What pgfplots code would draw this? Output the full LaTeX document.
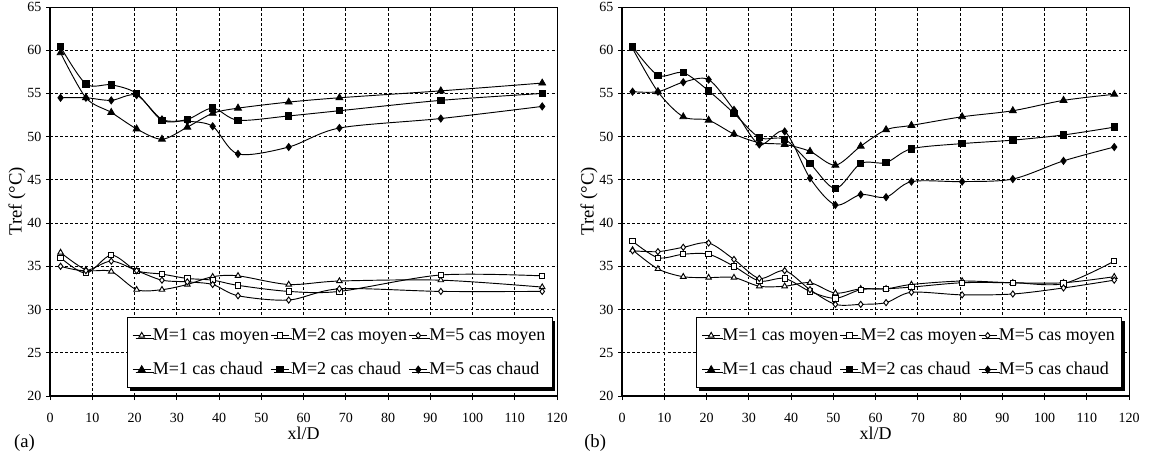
\documentclass[border=0pt]{standalone}
\usepackage{pgfplots}
\pgfplotsset{compat=1.18}
\usepackage{fontspec}
\setmainfont{Liberation Serif}
\usetikzlibrary{shadows}
\pgfplotsset{
  myax/.style={
    scale only axis, width=380.25pt, height=291.75pt, anchor=south west,
    clip mode=individual,
    xmin=0, xmax=120, ymin=20, ymax=65,
    xtick={0,10,...,120}, ytick={20,25,...,65},
    /pgf/number format/assume math mode=true,
    tick label style={font=\fontsize{10.5}{12}\selectfont},
    xticklabel shift=6pt,
    grid=major, major grid style={black, line width=0.6pt, dash pattern=on 2.2pt off 1.6pt},
    axis line style={black, line width=0.6pt},
    tick align=outside, xtick pos=bottom, ytick pos=left,
    major tick length=3pt, tick style={black, line width=0.6pt},
    xlabel={xl/D}, ylabel={Tref (\textdegree C)},
    xlabel style={at={(axis description cs:0.5,-0.095)}, anchor=center, font=\fontsize{13.5}{15}\selectfont},
    ylabel style={at={(axis description cs:-0.065,0.5)}, anchor=center, font=\fontsize{14}{16}\selectfont},
    legend columns=3,
    legend cell align=left,
    legend style={draw=black, line width=0.6pt, fill=white, font=\fontsize{13.5}{15}\selectfont,
      drop shadow={shadow xshift=2.2pt, shadow yshift=-2.2pt, fill=black, opacity=1},
      /tikz/every even column/.append style={column sep=0pt},
      nodes={inner sep=1.2pt}, row sep=12.5pt, inner xsep=4pt, inner ysep=7pt},
    legend image code/.code={\draw[mark repeat=2,mark phase=2,#1] plot coordinates {(0pt,0pt) (6.75pt,0pt) (13.5pt,0pt)};},
    every axis plot/.append style={black, line width=0.7pt, smooth, tension=0.5},
  },
  mo1/.style={mark=triangle*, mark size=2.4pt, mark options={fill=white, solid}},
  mo2/.style={mark=square*, mark size=2pt, mark options={fill=white, solid}},
  mo5/.style={mark=diamond*, mark size=2.3pt, mark options={fill=white, solid}},
  ch1/.style={mark=triangle*, mark size=2.9pt, mark options={fill=black, solid}},
  ch2/.style={mark=square*, mark size=2.4pt, mark options={fill=black, solid}},
  ch5/.style={mark=diamond*, mark size=2.6pt, mark options={fill=black, solid}},
}
\begin{document}
\begin{tikzpicture}
\useasboundingbox (0,0) rectangle (864.75pt,340.5pt);
% ---------- (a) ----------
\begin{axis}[myax, at={(37.5pt,43.5pt)},
  legend style={at={(axis cs:119,20.9)}, anchor=south east}]
\addplot[mo1] coordinates {(2.5,36.6) (8.5,34.6) (14.5,34.4) (20.5,32.3) (26.5,32.3) (32.5,32.9) (38.5,33.8) (44.5,33.9) (56.5,32.9) (68.5,33.3) (92.5,33.4) (116.5,32.6)};
\addplot[mo2] coordinates {(2.5,36.0) (8.5,34.2) (14.5,36.3) (20.5,34.5) (26.5,34.1) (32.5,33.6) (38.5,33.4) (44.5,32.8) (56.5,32.1) (68.5,32.1) (92.5,34.0) (116.5,33.9)};
\addplot[mo5] coordinates {(2.5,35.0) (8.5,34.5) (14.5,35.6) (20.5,34.5) (26.5,33.4) (32.5,33.2) (38.5,32.9) (44.5,31.6) (56.5,31.1) (68.5,32.4) (92.5,32.1) (116.5,32.1)};
\addplot[ch1] coordinates {(2.5,59.7) (8.5,54.5) (14.5,52.8) (20.5,50.9) (26.5,49.7) (32.5,51.1) (38.5,52.7) (44.5,53.3) (56.5,54.0) (68.5,54.5) (92.5,55.3) (116.5,56.2)};
\addplot[ch2] coordinates {(2.5,60.4) (8.5,56.1) (14.5,56.0) (20.5,55.0) (26.5,51.9) (32.5,52.0) (38.5,53.3) (44.5,51.9) (56.5,52.4) (68.5,53.0) (92.5,54.2) (116.5,55.0)};
\addplot[ch5] coordinates {(2.5,54.5) (8.5,54.5) (14.5,54.2) (20.5,54.8) (26.5,52.0) (32.5,51.8) (38.5,51.2) (44.5,48.0) (56.5,48.8) (68.5,51.0) (92.5,52.1) (116.5,53.5)};
\legend{M=1 cas moyen, M=2 cas moyen, M=5 cas moyen, M=1 cas chaud, M=2 cas chaud, M=5 cas chaud}
\draw[black, line width=1.5pt] (rel axis cs:0,1) -- (rel axis cs:0,0) -- (rel axis cs:1,0);
\node[font=\fontsize{14}{16}\selectfont] at (axis description cs:-0.0503,-0.121) {(a)};
\end{axis}
% ---------- (b) ----------
\begin{axis}[myax, at={(466.5pt,43.5pt)},
  legend style={at={(axis cs:118.4,20.9)}, anchor=south east}]
\addplot[mo1] coordinates {(2.5,36.9) (8.5,34.7) (14.5,33.8) (20.5,33.7) (26.5,33.7) (32.5,32.7) (38.5,32.7) (44.5,33.1) (50.5,31.9) (56.5,32.4) (62.5,32.4) (68.5,32.9) (80.5,33.3) (92.5,33.1) (104.5,33.1) (116.5,33.8)};
\addplot[mo2] coordinates {(2.5,37.9) (8.5,36.0) (14.5,36.4) (20.5,36.4) (26.5,35.0) (32.5,33.3) (38.5,33.6) (44.5,32.1) (50.5,31.3) (56.5,32.3) (62.5,32.4) (68.5,32.6) (80.5,33.1) (92.5,33.1) (104.5,33.0) (116.5,35.6)};
\addplot[mo5] coordinates {(2.5,36.8) (8.5,36.7) (14.5,37.2) (20.5,37.7) (26.5,35.8) (32.5,33.6) (38.5,34.5) (44.5,32.3) (50.5,30.6) (56.5,30.6) (62.5,30.8) (68.5,32.0) (80.5,31.7) (92.5,31.8) (104.5,32.5) (116.5,33.4)};
\addplot[ch1] coordinates {(2.5,60.2) (8.5,55.2) (14.5,52.3) (20.5,51.9) (26.5,50.3) (32.5,49.3) (38.5,49.1) (44.5,48.3) (50.5,46.7) (56.5,48.9) (62.5,50.8) (68.5,51.3) (80.5,52.3) (92.5,53.0) (104.5,54.2) (116.5,54.9)};
\addplot[ch2] coordinates {(2.5,60.4) (8.5,57.1) (14.5,57.4) (20.5,55.3) (26.5,52.7) (32.5,49.9) (38.5,49.7) (44.5,46.9) (50.5,44.0) (56.5,46.9) (62.5,47.0) (68.5,48.6) (80.5,49.2) (92.5,49.6) (104.5,50.2) (116.5,51.1)};
\addplot[ch5] coordinates {(2.5,55.2) (8.5,55.2) (14.5,56.3) (20.5,56.6) (26.5,53.1) (32.5,49.1) (38.5,50.6) (44.5,45.2) (50.5,42.1) (56.5,43.3) (62.5,43.0) (68.5,44.8) (80.5,44.8) (92.5,45.1) (104.5,47.2) (116.5,48.8)};
\legend{M=1 cas moyen, M=2 cas moyen, M=5 cas moyen, M=1 cas chaud, M=2 cas chaud, M=5 cas chaud}
\draw[black, line width=1.5pt] (rel axis cs:0,1) -- (rel axis cs:0,0) -- (rel axis cs:1,0);
\node[font=\fontsize{14}{16}\selectfont] at (axis description cs:-0.053,-0.121) {(b)};
\end{axis}
\end{tikzpicture}
\end{document}
